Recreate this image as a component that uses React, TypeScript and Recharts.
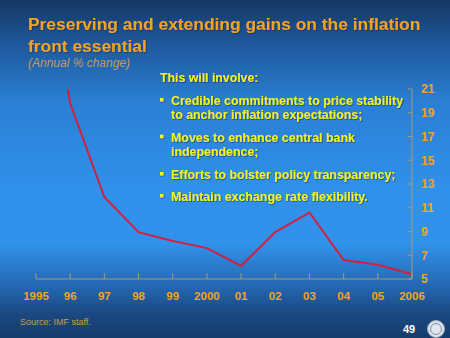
import React from "react";
import { LineChart, Line, XAxis, YAxis } from "recharts";

const years = ["1995", "96", "97", "98", "99", "2000", "01", "02", "03", "04", "05", "2006"];
const inflation = [37, 19.8, 11.9, 8.95, 8.2, 7.6, 6.1, 8.95, 10.6, 6.6, 6.2, 5.4];
const yTicks = [5, 7, 9, 11, 13, 15, 17, 19, 21];

const title1 = "Preserving and extending gains on the inflation";
const title2 = "front essential";
const subtitle = "(Annual % change)";
const introText = "This will involve:";
const bullets: string[][] = [
  ["Credible commitments to price stability", "to anchor inflation expectations;"],
  ["Moves to enhance central bank", "independence;"],
  ["Efforts to bolster policy transparency;"],
  ["Maintain exchange rate flexibility."],
];
const sourceText = "Source: IMF staff.";
const pageNo = "49";

const data = years.map((y, i) => ({ year: y, value: inflation[i] }));

const FONT = "'Liberation Sans', Arial, sans-serif";
const ORANGE = "#f2a324";
const YELLOW = "#f4f41c";
const AXIS = "#a89a72";

export default function App() {
  const bulletBaselines = [[105, 119], [141.7, 156.2], [179], [201]];
  return (
    <div
      style={{
        position: "absolute",
        left: 0,
        top: 0,
        width: 450,
        height: 338,
        overflow: "hidden",
        fontFamily: FONT,
        background:
          "linear-gradient(to bottom, #163763 0%, #1d5698 12%, #2a7fd4 30%, #3090ea 55%, #3192ec 72%, #2466b0 85%, #1a4880 93%, #163c6c 100%)",
      }}
    >
      <svg width={450} height={338} style={{ position: "absolute", left: 0, top: 0 }}>
        <defs>
          <filter id="sh" x="-5%" y="-20%" width="110%" height="140%">
            <feDropShadow dx="0.8" dy="0.8" stdDeviation="0.4" floodColor="#0a2040" floodOpacity="0.6" />
          </filter>
        </defs>
        <g filter="url(#sh)">
          <text x={28} y={30} fill={ORANGE} fontSize={17.4} fontWeight="bold" fontFamily={FONT}>
            {title1}
          </text>
          <text x={28} y={51.5} fill={ORANGE} fontSize={17.4} fontWeight="bold" fontFamily={FONT}>
            {title2}
          </text>
          <text x={160} y={82} fill={YELLOW} fontSize={12.3} fontWeight="bold" fontFamily={FONT}>
            {introText}
          </text>
          {bullets.map((lines, i) => (
            <g key={i}>
              <rect x={160} y={bulletBaselines[i][0] - 7} width={3.5} height={3.5} fill={YELLOW} />
              {lines.map((ln, j) => (
                <text
                  key={j}
                  x={171}
                  y={bulletBaselines[i][j]}
                  fill={YELLOW}
                  fontSize={12.4}
                  fontWeight="bold"
                  fontFamily={FONT}
                >
                  {ln}
                </text>
              ))}
            </g>
          ))}
        </g>
        <text x={28} y={67} fill="#c49a5c" fontSize={12} fontStyle="italic" fontFamily={FONT}>
          {subtitle}
        </text>
        <text x={20} y={325} fill="#cf9e45" fontSize={9} fontFamily={FONT}>
          {sourceText}
        </text>
        <text x={403} y={333} fill="#ffffff" fontSize={11} fontWeight="bold" fontFamily={FONT}>
          {pageNo}
        </text>
        <circle cx={436} cy={329} r={8.5} fill="#dfe6ee" stroke="#9aa8b8" strokeWidth={1} />
        <circle cx={436} cy={329} r={5.5} fill="none" stroke="#7d8ea3" strokeWidth={1} />
      </svg>
      <div style={{ position: "absolute", left: 0, top: 0 }}>
        <LineChart
          width={450}
          height={338}
          data={data}
          margin={{ top: 89, right: 8, left: 36, bottom: 29 }}
        >
          <XAxis
            dataKey="year"
            interval={0}
            axisLine={{ stroke: AXIS, strokeWidth: 1 }}
            tickLine={{ stroke: AXIS }}
            tickSize={-6}
            tickMargin={19}
            height={30}
            tick={{ fill: ORANGE, fontSize: 11.5, fontWeight: "bold", fontFamily: FONT }}
          />
          <YAxis
            orientation="right"
            domain={[5, 21]}
            ticks={yTicks}
            allowDataOverflow
            interval={0}
            width={30}
            axisLine={{ stroke: AXIS, strokeWidth: 1 }}
            tickLine={{ stroke: AXIS }}
            tickSize={-4}
            tickMargin={13}
            tick={{ fill: ORANGE, fontSize: 12, fontWeight: "bold", fontFamily: FONT, textAnchor: "start" }}
          />
          <Line
            type="linear"
            dataKey="value"
            stroke="#d3203c"
            strokeWidth={2}
            dot={false}
            isAnimationActive={false}
          />
        </LineChart>
      </div>
    </div>
  );
}
